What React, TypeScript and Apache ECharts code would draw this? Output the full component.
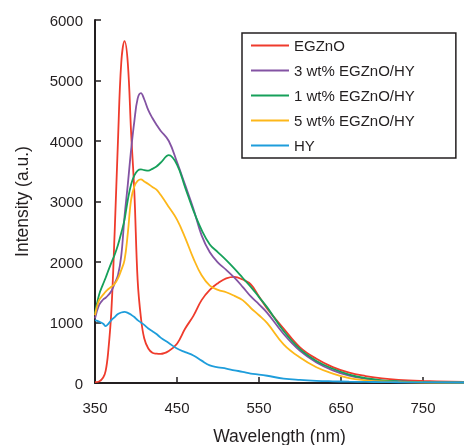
import React, { useEffect, useRef } from "react";
import * as echarts from "echarts";

const wavelength = [350, 355, 360, 363, 366, 370, 374, 378, 382, 386, 390, 394, 398, 402, 406, 410, 415, 420, 425, 430, 440, 450, 460, 470, 480, 490, 500, 510, 520, 530, 540, 550, 560, 580, 600, 620, 640, 660, 680, 700, 720, 750, 800];

const egzno = [15, 25, 90, 200, 500, 1200, 2500, 4000, 5290, 5650, 5290, 4150, 3150, 1700, 1080, 740, 570, 500, 485, 480, 530, 650, 900, 1110, 1370, 1540, 1650, 1730, 1755, 1710, 1630, 1430, 1230, 900, 590, 400, 262, 170, 115, 75, 52, 35, 17];
const wt3 = [1066, 1290, 1380, 1410, 1450, 1520, 1645, 1780, 2100, 2750, 3280, 3850, 4330, 4700, 4790, 4690, 4510, 4380, 4270, 4170, 4000, 3650, 3270, 2880, 2440, 2160, 1990, 1870, 1740, 1590, 1430, 1300, 1160, 810, 530, 340, 210, 120, 70, 40, 25, 15, 8];
const wt1 = [1150, 1460, 1640, 1740, 1850, 1990, 2120, 2280, 2480, 2700, 3025, 3280, 3430, 3510, 3530, 3520, 3510, 3540, 3580, 3640, 3765, 3610, 3230, 2850, 2530, 2290, 2160, 2030, 1890, 1740, 1590, 1420, 1250, 860, 560, 365, 235, 140, 80, 45, 28, 15, 8];
const wt5 = [1120, 1370, 1460, 1510, 1550, 1590, 1640, 1730, 1866, 2031, 2473, 3025, 3250, 3340, 3367, 3330, 3290, 3240, 3195, 3110, 2910, 2700, 2400, 2060, 1780, 1610, 1540, 1500, 1440, 1370, 1240, 1120, 990, 640, 420, 260, 155, 80, 45, 25, 15, 8, 5];
const hy = [1038, 1015, 980, 940, 975, 1040, 1090, 1140, 1165, 1175, 1160, 1130, 1090, 1040, 1000, 960, 900, 855, 810, 750, 660, 570, 510, 455, 370, 290, 260, 238, 210, 185, 155, 140, 120, 72, 50, 36, 28, 22, 18, 15, 12, 10, 8];

const seriesNames = ["EGZnO", "3 wt% EGZnO/HY", "1 wt% EGZnO/HY", "5 wt% EGZnO/HY", "HY"];
const seriesValues = [egzno, wt3, wt1, wt5, hy];
const seriesColors = ["#ef3b2c", "#8353a3", "#16a05a", "#fdb71a", "#1e9ddb"];

const FONT = "'Liberation Sans', Arial, sans-serif";
const INK = "#231f20";

export default function App() {
  const ref = useRef<HTMLDivElement>(null);
  useEffect(() => {
    if (!ref.current) return;
    const chart = echarts.init(ref.current, null, { renderer: "svg" });
    chart.setOption({
      animation: false,
      textStyle: { fontFamily: FONT },
      grid: { left: 95, right: 0, top: 20, bottom: 62, containLabel: false, outerBoundsMode: "none" },
      legend: {
        orient: "vertical",
        left: 242,
        top: 33,
        padding: [5, 41, 5, 9],
        icon: "rect",
        itemWidth: 38,
        itemHeight: 2,
        itemGap: 10,
        borderColor: INK,
        borderWidth: 1.5,
        textStyle: { fontFamily: FONT, fontSize: 15, color: INK, lineHeight: 14 },
        data: seriesNames,
      },
      xAxis: {
        type: "value",
        min: 350,
        max: 800,
        interval: 100,
        name: "Wavelength (nm)",
        nameLocation: "middle",
        nameGap: 44,
        nameTextStyle: { fontFamily: FONT, fontSize: 17.5, color: INK },
        axisLine: { lineStyle: { color: INK, width: 2 } },
        axisTick: { inside: true, length: 6, lineStyle: { color: INK, width: 1.5 } },
        axisLabel: { fontFamily: FONT, fontSize: 15, color: INK, margin: 17, showMaxLabel: false },
        splitLine: { show: false },
      },
      yAxis: {
        type: "value",
        min: 0,
        max: 6000,
        interval: 1000,
        name: "Intensity (a.u.)",
        nameLocation: "middle",
        nameGap: 64,
        nameTextStyle: { fontFamily: FONT, fontSize: 17.5, color: INK },
        axisLine: { show: true, lineStyle: { color: INK, width: 2 } },
        axisTick: { show: true, inside: true, length: 6, lineStyle: { color: INK, width: 1.5 } },
        axisLabel: { fontFamily: FONT, fontSize: 15, color: INK, margin: 12, formatter: (v: number) => String(v) },
        splitLine: { show: false },
      },
      series: seriesNames.map((name, i) => ({
        name,
        type: "line",
        smooth: 0.4,
        symbol: "none",
        color: seriesColors[i],
        itemStyle: { color: seriesColors[i] },
        lineStyle: { width: 1.8, color: seriesColors[i] },
        data: wavelength.map((w, j) => [w, seriesValues[i][j]]),
      })),
    });
    return () => chart.dispose();
  }, []);
  return <div ref={ref} style={{ position: "fixed", left: 0, top: 0, width: 464, height: 445 }} />;
}
